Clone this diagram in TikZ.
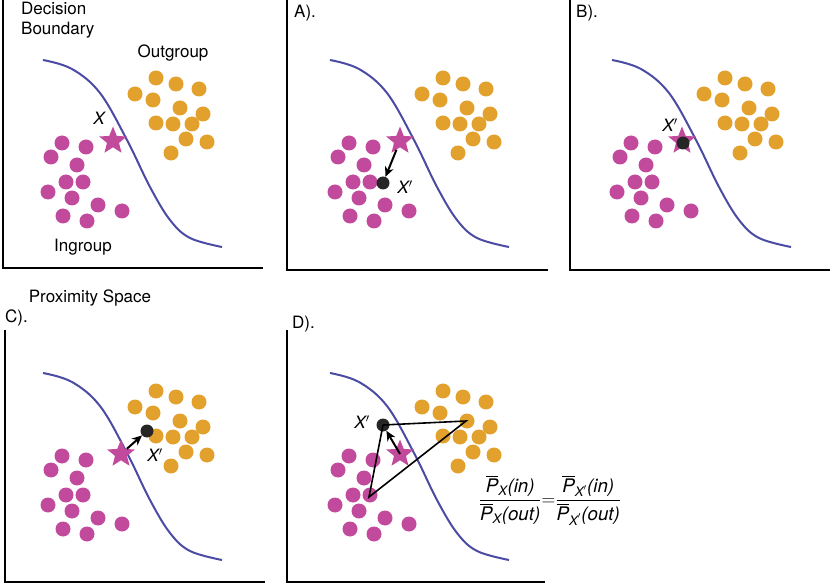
\documentclass[tikz,border=0pt]{standalone}
\usepackage{amsmath}
\usepackage{fontspec}
\setmainfont{TeX Gyre Heros}
\usetikzlibrary{shapes.geometric,arrows.meta}
\definecolor{mag}{HTML}{C24A9C}
\definecolor{org}{HTML}{E2A02C}
\definecolor{bnd}{HTML}{4B4BA3}
\tikzset{
 dotm/.style={circle,fill=mag,inner sep=0pt,minimum size=15pt},
 doto/.style={circle,fill=org,inner sep=0pt,minimum size=15pt},
 starx/.style={star,star points=5,star point ratio=2.3,fill=mag,inner sep=0pt,minimum size=29pt},
 xp/.style={circle,fill=black!85,inner sep=0pt,minimum size=13pt},
 lbl/.style={font=\fontsize{17}{20}\selectfont,inner sep=1pt},
 axis/.style={line width=2pt,black},
 boundary/.style={line width=2pt,bnd},
 arr/.style={-{Stealth[length=10pt,width=9pt]},line width=2pt}
}
\newcommand{\pr}{$'$}
\newcommand{\panel}[1]{%
 \foreach \x/\y in {156/78,176/84,199/89,135/94,153/100,180/108,203/114,156/123,173/124,192/124,186/139,207/142,171/153}
   \node[doto] at (\x,\y) {};
 \foreach \x/\y in {62/143,86/147,51/157,77/165,66/182,83/182,48/192,72/198,98/205,122/211,63/216,87/221}
   \node[dotm] at (\x,\y) {};
 \draw[boundary] plot[smooth,tension=0.6] coordinates {(43,60) (72,69) (100,93) (127,140) (150,187) (170,220) (190,238) (222,247)};
}
\begin{document}
\begin{tikzpicture}[x=1pt,y=-1pt]
\useasboundingbox (0,0) rectangle (830,585);
% panel 1
\begin{scope}
 \draw[axis] (3,0) -- (3,268) -- (263,268);
 \panel{}
 \node[starx] (s1) at (113,141) {};
 \node[lbl] (x1) at (99,118) {\itshape X};
 \node[lbl,align=left,anchor=north west] (db) at (20,1) {Decision\\Boundary};
 \node[lbl] (og) at (173,53) {Outgroup};
 \node[lbl] (ig) at (83,247) {Ingroup};
\end{scope}
% panel A
\begin{scope}[shift={(287,0)}]
 \draw[axis] (0,0) -- (0,270) -- (261,270);
 \node[lbl,anchor=north west] (la) at (6,4) {A).};
 \panel{}
 \node[starx] (sa) at (113,141) {};
 \node[xp] (pa) at (96,183) {};
 \draw[arr] (sa) -- (pa);
 \node[lbl] (xa) at (118,187) {\itshape X\pr};
\end{scope}
% panel B
\begin{scope}[shift={(569,0)}]
 \draw[axis] (1,0) -- (1,270) -- (262,270);
 \node[lbl,anchor=north west] (lb) at (6,4) {B).};
 \panel{}
 \node[starx] (sb) at (113,141) {};
 \node[xp] (pb) at (114,143) {};
 \node[lbl] (xb) at (101,125) {\itshape X\pr};
\end{scope}
% panel C
\begin{scope}[shift={(0,313)}]
 \draw[axis] (5,17) -- (5,269) -- (265,269);
 \node[lbl] (ps) at (90,-15) {Proximity Space};
 \node[lbl,anchor=north west] (lc) at (4,-4) {C).};
 \panel{}
 \node[starx] (sc) at (121,141) {};
 \node[xp] (pc) at (147,118) {};
 \draw[arr] (sc) -- (pc);
 \node[lbl] (xc) at (155,142) {\itshape X\pr};
\end{scope}
% panel D
\begin{scope}[shift={(287,313)}]
 \draw[axis] (0,17) -- (0,269) -- (258,269);
 \node[lbl,anchor=north west] (ld) at (4,2) {D).};
 \panel{}
 \node[starx] (sd) at (113,141) {};
 \node[xp] (pd) at (96,112) {};
 \node[lbl] (xd) at (75,109) {\itshape X\pr};
 \coordinate (co) at (179,108);
 \coordinate (cm) at (82,184);
 \draw[line width=1.6pt] (pd.center) -- (co) -- (cm) -- (pd.center);
 \draw[arr] (sd.center) -- (pd);
 \node[lbl,scale=1.1] (fm) at (263,187) {$\dfrac{\overline{\textit{P}}_{\textit{X}}\textit{(in)}}{\overline{\textit{P}}_{\textit{X}}\textit{(out)}}{=}\dfrac{\overline{\textit{P}}_{\textit{X}'}\textit{(in)}}{\overline{\textit{P}}_{\textit{X}'}\textit{(out)}}$};
\end{scope}
\end{tikzpicture}
\end{document}
